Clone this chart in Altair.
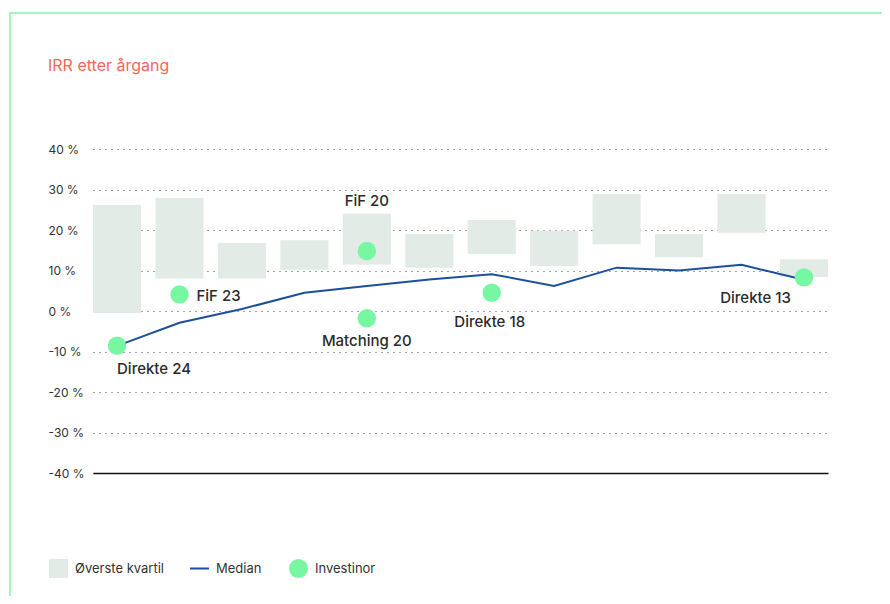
import altair as alt
import pandas as pd

# ---- data ----
vintages = ["2024", "2023", "2022", "2021", "2020", "2019",
            "2018", "2017", "2016", "2015", "2014", "2013"]
quart_low = [-0.5, 8.0, 8.0, 10.2, 11.4, 10.7, 14.1, 11.1, 16.5, 13.3, 19.3, 8.4]
quart_high = [26.2, 27.9, 16.8, 17.5, 24.0, 19.0, 22.5, 19.8, 28.9, 19.0, 28.9, 12.8]
median = [-8.6, -2.9, 0.5, 4.5, 6.2, 7.8, 9.1, 6.2, 10.7, 10.0, 11.4, 7.7]

inv_vintage = ["2024", "2023", "2020", "2020", "2018", "2013"]
inv_label = ["Direkte 24", "FiF 23", "FiF 20", "Matching 20", "Direkte 18", "Direkte 13"]
inv_irr = [-8.6, 4.1, 14.8, -1.8, 4.5, 8.3]

y_ticks = [-40, -30, -20, -10, 0, 10, 20, 30, 40]
series_names = ["Øverste kvartil", "Median", "Investinor"]
series_colors = ["#e3ebe6", "#1d4f9e", "#78f7a2"]

# label placement (style): align, dx, dy
label_style = {
    "Direkte 24": ("left", 0, 23),
    "FiF 23": ("left", 17, 2),
    "FiF 20": ("center", 0, -50),
    "Matching 20": ("center", 0, 23),
    "Direkte 18": ("center", -2, 29),
    "Direkte 13": ("right", -13, 21),
}

FONT = "Inter"
TEXT = "#2b2b2b"

df_q = pd.DataFrame({"vintage": vintages, "low": quart_low, "high": quart_high})
df_q["series"] = series_names[0]
df_m = pd.DataFrame({"vintage": vintages, "irr": median})
df_m["series"] = series_names[1]
df_i = pd.DataFrame({"vintage": inv_vintage, "irr": inv_irr, "label": inv_label})
df_i["series"] = series_names[2]

xscale = alt.Scale(paddingInner=0.23, paddingOuter=0)
yscale = alt.Scale(domain=[-40, 40], nice=False)

x_axis = alt.Axis(title=None, labels=False, ticks=False, grid=False,
                  domain=True, domainColor="#111111", domainWidth=1.5)
y_axis = alt.Axis(title=None, values=y_ticks, labelExpr="datum.value + ' %'",
                  domain=False, ticks=False, tickSize=0, labelAlign="left",
                  labelPadding=45, labelFont=FONT, labelFontSize=12,
                  labelColor="#333333", grid=True, gridDash=[1, 5],
                  gridColor="#444444", gridWidth=1)


def legend(sym, lx):
    return alt.Legend(title=None, orient="none", legendX=lx, legendY=409,
                      symbolType=sym, symbolSize=361, symbolStrokeWidth=2,
                      labelFont=FONT, labelFontSize=13, labelColor="#333333",
                      labelOffset=6, symbolOpacity=1)


frame = alt.Chart(pd.DataFrame({"k": [0]})).mark_rect(
    fill="transparent", stroke="#80f5a8", strokeWidth=1.5
).encode(x=alt.value(-83), x2=alt.value(810), y=alt.value(-136), y2=alt.value(470))

bars = alt.Chart(df_q).mark_bar(opacity=1).encode(
    x=alt.X("vintage:N", sort=vintages, scale=xscale, axis=x_axis),
    y=alt.Y("high:Q", scale=yscale, axis=y_axis),
    y2="low:Q",
    fill=alt.Fill("series:N", scale=alt.Scale(domain=[series_names[0]], range=[series_colors[0]]),
                  legend=legend("square", -45)),
)

line = alt.Chart(df_m).mark_line(strokeWidth=2).encode(
    x=alt.X("vintage:N", sort=vintages, scale=xscale),
    y=alt.Y("irr:Q", scale=yscale),
    stroke=alt.Stroke("series:N", scale=alt.Scale(domain=[series_names[1]], range=[series_colors[1]]),
                      legend=legend("stroke", 96)),
)

points = alt.Chart(df_i).mark_circle(size=340, opacity=1).encode(
    x=alt.X("vintage:N", sort=vintages, scale=xscale),
    y=alt.Y("irr:Q", scale=yscale),
    color=alt.Color("series:N", scale=alt.Scale(domain=[series_names[2]], range=[series_colors[2]]),
                    legend=legend("circle", 195)),
)

texts = []
for name in inv_label:
    align, dx, dy = label_style[name]
    texts.append(
        alt.Chart(df_i).transform_filter(alt.datum.label == name).mark_text(
            align=align, baseline="middle", dx=dx, dy=dy, font=FONT,
            fontSize=15, fontWeight=500, color=TEXT
        ).encode(
            x=alt.X("vintage:N", sort=vintages, scale=xscale),
            y=alt.Y("irr:Q", scale=yscale),
            text="label:N",
        )
    )

chart = alt.layer(frame, bars, line, points, *texts).properties(
    width=735, height=324,
    autosize=alt.AutoSizeParams(type="none"),
    padding={"left": 85, "top": 141, "right": 54, "bottom": 123},
    title=alt.TitleParams("IRR etter årgang", anchor="start", frame="group",
                          baseline="middle", dx=-45, offset=-70, font=FONT,
                          fontSize=16, fontWeight="normal", color="#f26a55"),
).configure(font=FONT, view=alt.ViewConfig(strokeWidth=0, stroke="transparent"))

chart.save("out.html", embed_options={"renderer": "svg", "actions": False})
